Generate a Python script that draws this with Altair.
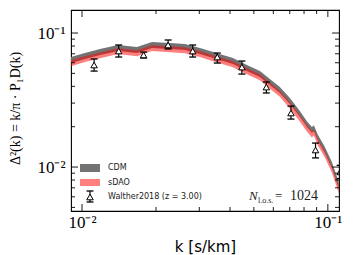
import altair as alt
import pandas as pd

# ---- model curves (k in s/km) ----
k_model = [0.00902, 0.01028, 0.01184, 0.01401, 0.01673, 0.01926, 0.02279, 0.02623,
           0.03018, 0.03314, 0.03743, 0.04110, 0.04685, 0.05291, 0.05809, 0.06380,
           0.07006, 0.07693, 0.08216, 0.08610, 0.08770, 0.09106, 0.09723, 0.10382,
           0.11085]
cdm_lo = [0.0598, 0.0640, 0.0685, 0.0734, 0.0710, 0.0773, 0.0760, 0.0747, 0.0697,
          0.0662, 0.0618, 0.0587, 0.0521, 0.0469, 0.0409, 0.0357, 0.0295, 0.0237,
          0.0199, 0.0180, 0.0185, 0.0157, 0.0127, 0.00983, 0.00690]
cdm_hi = [0.0662, 0.0710, 0.0759, 0.0814, 0.0787, 0.0857, 0.0842, 0.0828, 0.0773,
          0.0734, 0.0686, 0.0651, 0.0577, 0.0520, 0.0454, 0.0396, 0.0327, 0.0262,
          0.0220, 0.0199, 0.0205, 0.0174, 0.0141, 0.01090, 0.00770]
sdao_lo = [0.0566, 0.0607, 0.0649, 0.0696, 0.0672, 0.0733, 0.0720, 0.0707, 0.0661,
           0.0627, 0.0586, 0.0556, 0.0493, 0.0445, 0.0384, 0.0335, 0.0274, 0.0219,
           0.0184, 0.0166, 0.0172, 0.0145, 0.0118, 0.0091, 0.00635]
sdao_hi = [0.0626, 0.0671, 0.0717, 0.0769, 0.0743, 0.0810, 0.0796, 0.0782, 0.0730,
           0.0694, 0.0648, 0.0615, 0.0545, 0.0492, 0.0425, 0.0370, 0.0305, 0.0244,
           0.0205, 0.0185, 0.0191, 0.0162, 0.0131, 0.0101, 0.00712]

# ---- Walther2018 data ----
k_w = [0.0112, 0.0141, 0.0178, 0.0224, 0.0282, 0.0355, 0.0447, 0.0562, 0.0708, 0.0891, 0.1122]
d_w = [0.0577, 0.0734, 0.0686, 0.0814, 0.0734, 0.0662, 0.0557, 0.0395, 0.0253, 0.0134, 0.0092]
lo_w = [0.0520, 0.0662, 0.0651, 0.0760, 0.0662, 0.0597, 0.0494, 0.0357, 0.0228, 0.0117, 0.0082]
hi_w = [0.0640, 0.0814, 0.0721, 0.0887, 0.0814, 0.0709, 0.0618, 0.0431, 0.0285, 0.0151, 0.0103]

# ---- ticks ----
x_major = [0.01, 0.1]
x_minor = [0.02, 0.03, 0.04, 0.05, 0.06, 0.07, 0.08, 0.09]
y_major = [0.01, 0.1]
y_minor = [0.005, 0.006, 0.007, 0.008, 0.009, 0.02, 0.03, 0.04, 0.05, 0.06, 0.07, 0.08, 0.09]

legend_labels = ["CDM", "sDAO", "Walther2018 (z = 3.00)"]

W, H = 268, 201
SERIF = "Liberation Serif"
SANS = "DejaVu Sans"

xs = alt.Scale(type="log", domain=[0.00902, 0.111], nice=False)
ys = alt.Scale(type="log", domain=[0.0047, 0.1485], nice=False)

model = pd.DataFrame({"k": k_model, "cdm_lo": cdm_lo, "cdm_hi": cdm_hi,
                      "sdao_lo": sdao_lo, "sdao_hi": sdao_hi})
wal = pd.DataFrame({"k": k_w, "d": d_w, "lo": lo_w, "hi": hi_w})

x_axis = alt.Axis(values=x_major, labelExpr="datum.value < 0.05 ? '10⁻²' : '10⁻¹'",
                  ticks=False, domain=False, grid=False, labelFlush=False, labelOverlap=False,
                  labelFont=SERIF, labelFontSize=17, labelColor="black", labelPadding=3,
                  title="k [s/km]", titleFont=SANS, titleFontSize=15, titleFontWeight="normal",
                  titleColor="black", titleX=134, titleY=35, titleBaseline="middle",
                  titleAlign="center")
y_axis = alt.Axis(values=y_major, labelExpr="datum.value < 0.05 ? '10⁻²' : '10⁻¹'",
                  ticks=False, domain=False, grid=False, labelFlush=False, labelOverlap=False,
                  labelFont=SERIF, labelFontSize=17, labelColor="black", labelPadding=6,
                  title="Δ²(k) = k/π · P₁D(k)", titleFont=SERIF, titleFontSize=14,
                  titleFontWeight="normal", titleColor="black", titleAngle=270,
                  titleX=-56, titleY=98, titleBaseline="middle", titleAlign="center")


def X(f):
    return alt.X(f, type="quantitative", scale=xs, axis=x_axis)


def Y(f):
    return alt.Y(f, type="quantitative", scale=ys, axis=y_axis)


cdm = alt.Chart(model).mark_area(color="#737373", clip=True).encode(
    x=X("k"), y=Y("cdm_lo"), y2="cdm_hi:Q")
sdao = alt.Chart(model).mark_area(color="#ff0000", opacity=0.5, clip=True).encode(
    x=X("k"), y=Y("sdao_lo"), y2="sdao_hi:Q")

wbase = alt.Chart(wal)
err = wbase.mark_rule(color="black", strokeWidth=1.2, clip=True).encode(
    x=X("k"), y=Y("lo"), y2="hi:Q")
cap_lo = wbase.mark_tick(orient="horizontal", color="black", size=7, thickness=1.3,
                         opacity=1, clip=True).encode(x=X("k"), y=Y("lo"))
cap_hi = wbase.mark_tick(orient="horizontal", color="black", size=7, thickness=1.3,
                         opacity=1, clip=True).encode(x=X("k"), y=Y("hi"))
tri = wbase.mark_point(shape="triangle-up", filled=True, fill="white", stroke="black",
                       strokeWidth=1, size=42, opacity=1, clip=True).encode(
    x=X("k"), y=Y("d"))

# ---- inward ticks ----
tick_layers = []
for vals, ln in [(x_major, 7), (x_minor, 4)]:
    d = alt.Chart(pd.DataFrame({"v": vals}))
    tick_layers.append(d.mark_rule(color="black", strokeWidth=0.9).encode(
        x=X("v"), y=alt.value(H), y2=alt.value(H - ln)))
    tick_layers.append(d.mark_rule(color="black", strokeWidth=0.9).encode(
        x=X("v"), y=alt.value(0), y2=alt.value(ln)))
for vals, ln in [(y_major, 7), (y_minor, 4)]:
    d = alt.Chart(pd.DataFrame({"v": vals}))
    tick_layers.append(d.mark_rule(color="black", strokeWidth=0.9).encode(
        y=Y("v"), x=alt.value(0), x2=alt.value(ln)))
    tick_layers.append(d.mark_rule(color="black", strokeWidth=0.9).encode(
        y=Y("v"), x=alt.value(W), x2=alt.value(W - ln)))

# ---- legend (drawn inside the plot, bottom-left) ----
one = alt.Chart(pd.DataFrame({"a": [0]}))
leg = [
    one.mark_rect(color="#737373").encode(x=alt.value(9), x2=alt.value(29),
                                          y=alt.value(154), y2=alt.value(162)),
    one.mark_rect(color="#ff0000", opacity=0.5).encode(x=alt.value(9), x2=alt.value(29),
                                                       y=alt.value(169), y2=alt.value(176)),
    one.mark_rule(color="black", strokeWidth=1.2).encode(x=alt.value(19), y=alt.value(181),
                                                          y2=alt.value(192)),
    one.mark_rule(color="black", strokeWidth=1.3).encode(x=alt.value(15.5), x2=alt.value(22.5),
                                                          y=alt.value(181)),
    one.mark_rule(color="black", strokeWidth=1.3).encode(x=alt.value(15.5), x2=alt.value(22.5),
                                                          y=alt.value(192)),
    one.mark_point(shape="triangle-up", filled=True, fill="white", stroke="black",
                   strokeWidth=1, size=42, opacity=1).encode(x=alt.value(19), y=alt.value(187)),
]
for lab, yy in zip(legend_labels, [158, 173, 187]):
    leg.append(one.mark_text(text=lab, font=SANS, fontSize=8, align="left",
                             baseline="middle", color="#222222").encode(
        x=alt.value(37), y=alt.value(yy)))

nlos = [
    one.mark_text(text="N", font=SERIF, fontSize=13, fontStyle="italic", align="left",
                  baseline="alphabetic", color="#222222").encode(x=alt.value(178), y=alt.value(190)),
    one.mark_text(text="l.o.s.", font=SERIF, fontSize=8, align="left",
                  baseline="alphabetic", color="#222222").encode(x=alt.value(187), y=alt.value(193)),
    one.mark_text(text="=", font=SERIF, fontSize=13, align="left",
                  baseline="alphabetic", color="#222222").encode(x=alt.value(204), y=alt.value(190)),
    one.mark_text(text="1024", font=SERIF, fontSize=14, align="left",
                  baseline="alphabetic", color="#222222").encode(x=alt.value(219), y=alt.value(190)),
]

chart = alt.layer(cdm, sdao, err, cap_lo, cap_hi, tri, *tick_layers, *leg, *nlos).properties(
    width=W, height=H,
    autosize=alt.AutoSizeParams(type="none"),
    padding={"left": 63, "top": 2, "right": 10, "bottom": 44},
).configure_view(stroke="black", strokeWidth=1.1)

chart.save("out.html", embed_options={"renderer": "svg", "actions": False})
